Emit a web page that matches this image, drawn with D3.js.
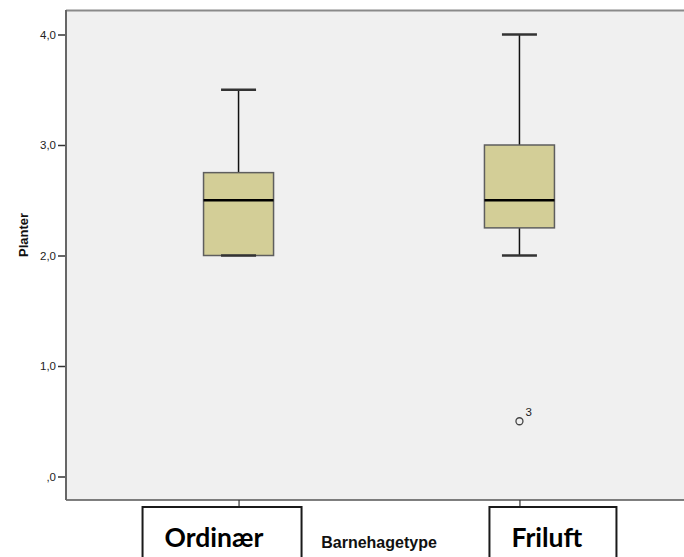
<!DOCTYPE html>
<html>
<head>
<meta charset="utf-8">
<script src="https://cdn.jsdelivr.net/npm/d3@7"></script>
<style>
    body { margin: 0; background: #fff; }
    svg { display: block; font-family: Arial, "Liberation Sans", sans-serif; }
</style>
</head>
<body>
<div id="chart"></div>
<script>
// Box plot values
const categories = ['Ordinær', 'Friluft'];
const whiskerLow = [2.0, 2.0];
const q1 = [2.0, 2.25];
const medians = [2.5, 2.5];
const q3 = [2.75, 3.0];
const whiskerHigh = [3.5, 4.0];
const outlierCats = ['Friluft'];
const outlierValues = [0.5];
const outlierLabels = ['3'];
const yTicks = [0, 1, 2, 3, 4];

const width = 684;
const height = 557;
const plot = { left: 66, right: 684, top: 10, bottom: 500 };

const svg = d3.select('#chart').append('svg')
    .attr('width', width)
    .attr('height', height);

const x = d3.scalePoint()
    .domain(categories)
    .range([70, 688])
    .padding(0.6);

const y = d3.scaleLinear()
    .domain([0, 4])
    .range([476.5, 34.5]);

const boxW = 70;
const capW = 35;

// plot background
svg.append('rect')
    .attr('x', plot.left)
    .attr('y', plot.top)
    .attr('width', plot.right - plot.left)
    .attr('height', plot.bottom - plot.top)
    .attr('fill', '#f0f0f0');

svg.append('line')
    .attr('x1', plot.left).attr('x2', plot.right)
    .attr('y1', plot.top + 0.5).attr('y2', plot.top + 0.5)
    .attr('stroke', '#8a8a8a').attr('stroke-width', 2);
svg.append('line')
    .attr('x1', plot.left).attr('x2', plot.right)
    .attr('y1', plot.bottom).attr('y2', plot.bottom)
    .attr('stroke', '#555').attr('stroke-width', 1.5);

// y axis
const yAxis = d3.axisLeft(y)
    .tickValues(yTicks)
    .tickSize(8)
    .tickPadding(2)
    .tickFormat(d => d === 0 ? ',0' : d.toFixed(1).replace('.', ','));

const gy = svg.append('g')
    .attr('transform', `translate(${plot.left},0)`)
    .call(yAxis);
gy.select('.domain').remove();
gy.selectAll('.tick line').attr('stroke', '#333').attr('stroke-width', 1.5);
gy.attr('font-family', 'Arial, "Liberation Sans", sans-serif').attr('font-size', 11.5);
gy.selectAll('.tick text').attr('fill', '#222');

svg.append('line')
    .attr('x1', plot.left).attr('x2', plot.left)
    .attr('y1', plot.top).attr('y2', plot.bottom)
    .attr('stroke', '#666').attr('stroke-width', 2);

// x ticks
const xAxis = d3.axisBottom(x).tickSize(7).tickFormat('');
const gx = svg.append('g')
    .attr('transform', `translate(0,${plot.bottom})`)
    .call(xAxis);
gx.select('.domain').remove();
gx.selectAll('.tick line').attr('stroke', '#333').attr('stroke-width', 1.2);

// boxes
const boxes = categories.map((c, i) => ({
    cat: c, lo: whiskerLow[i], q1: q1[i], med: medians[i], q3: q3[i], hi: whiskerHigh[i]
}));

const g = svg.append('g').selectAll('g')
    .data(boxes)
    .enter().append('g');

g.append('line')
    .attr('x1', d => x(d.cat)).attr('x2', d => x(d.cat))
    .attr('y1', d => y(d.hi)).attr('y2', d => y(d.q3))
    .attr('stroke', '#111').attr('stroke-width', 1.5);
g.append('line')
    .attr('x1', d => x(d.cat)).attr('x2', d => x(d.cat))
    .attr('y1', d => y(d.q1)).attr('y2', d => y(d.lo))
    .attr('stroke', '#111').attr('stroke-width', 1.5);

g.append('rect')
    .attr('x', d => x(d.cat) - boxW / 2)
    .attr('y', d => y(d.q3))
    .attr('width', boxW)
    .attr('height', d => y(d.q1) - y(d.q3))
    .attr('fill', '#d3ce97')
    .attr('stroke', '#5e5e5e')
    .attr('stroke-width', 1.5);

g.append('line')
    .attr('x1', d => x(d.cat) - boxW / 2).attr('x2', d => x(d.cat) + boxW / 2)
    .attr('y1', d => y(d.med)).attr('y2', d => y(d.med))
    .attr('stroke', '#000').attr('stroke-width', 2.5);

['hi', 'lo'].forEach(k => {
    g.append('line')
        .attr('x1', d => x(d.cat) - capW / 2).attr('x2', d => x(d.cat) + capW / 2)
        .attr('y1', d => y(d[k])).attr('y2', d => y(d[k]))
        .attr('stroke', '#333').attr('stroke-width', 2.5);
});

// outliers
const outliers = outlierCats.map((c, i) => ({ cat: c, v: outlierValues[i], label: outlierLabels[i] }));
svg.append('g').selectAll('circle')
    .data(outliers)
    .enter().append('circle')
    .attr('cx', d => x(d.cat))
    .attr('cy', d => y(d.v))
    .attr('r', 3.5)
    .attr('fill', 'none')
    .attr('stroke', '#444')
    .attr('stroke-width', 1.3);
svg.append('g').selectAll('text')
    .data(outliers)
    .enter().append('text')
    .attr('x', d => x(d.cat) + 6)
    .attr('y', d => y(d.v) - 5)
    .style('font-size', '11.5px')
    .attr('fill', '#222')
    .text(d => d.label);

// axis titles
svg.append('text')
    .attr('transform', 'translate(28,235) rotate(-90)')
    .attr('text-anchor', 'middle')
    .style('font-size', '13px')
    .style('font-weight', 'bold')
    .attr('fill', '#111')
    .text('Planter');

svg.append('text')
    .attr('x', 379)
    .attr('y', 548)
    .attr('text-anchor', 'middle')
    .style('font-size', '16px')
    .style('font-weight', 'bold')
    .attr('fill', '#111')
    .text('Barnehagetype');

// boxed category labels (left offset and width relative to the tick)
const labelBoxes = [
    { cat: 'Ordinær', dx: -96, w: 159 },
    { cat: 'Friluft', dx: -30, w: 127 }
];
const lb = svg.append('g').selectAll('g')
    .data(labelBoxes)
    .enter().append('g');
lb.append('rect')
    .attr('x', d => x(d.cat) + d.dx)
    .attr('y', 507)
    .attr('width', d => d.w)
    .attr('height', 70)
    .attr('fill', '#fff')
    .attr('stroke', '#1a1a1a')
    .attr('stroke-width', 2);
lb.append('text')
    .attr('x', d => x(d.cat) + d.dx + 22)
    .attr('y', 547)
    .style('font-family', 'Lato, "Open Sans", sans-serif')
    .style('font-size', '26.5px')
    .style('font-weight', 'bold')
    .attr('fill', '#000')
    .text(d => d.cat);
</script>
</body>
</html>
